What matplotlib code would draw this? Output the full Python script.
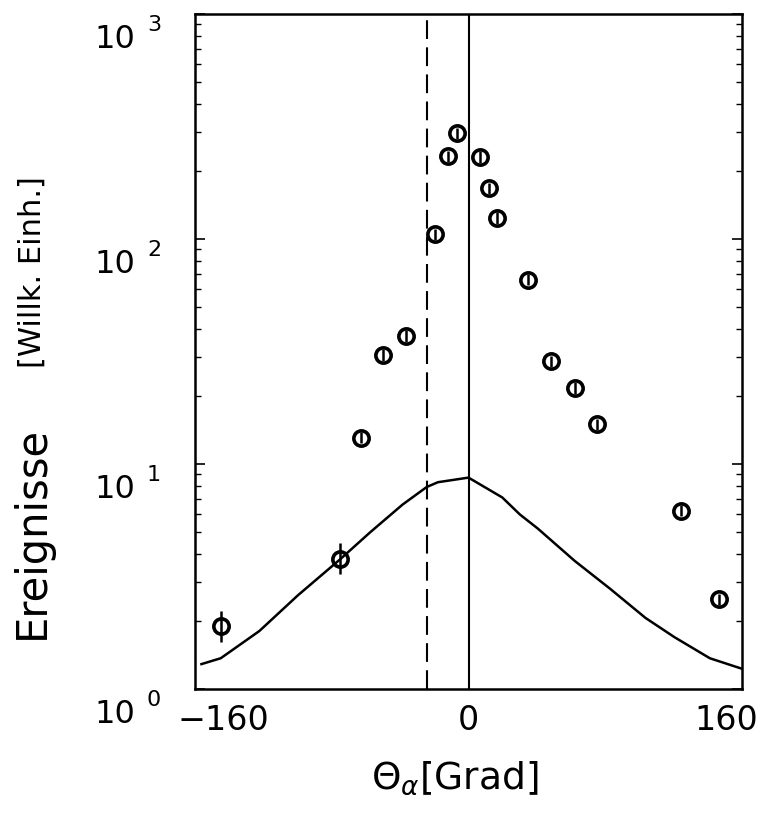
import matplotlib
matplotlib.use("Agg")
import matplotlib.pyplot as plt
import matplotlib.transforms as mtransforms
import numpy as np

plt.rcParams['font.family'] = ['DejaVu Sans']

# data points (theta in degrees, events)
theta_pts = [-154, -80, -67, -53, -39, -21, -13, -7, 7, 12.5, 18, 37, 51, 66, 80, 132, 156]
events_pts = [1.9, 3.8, 13.1, 30.5, 37, 105, 233, 295, 231, 168, 124, 66, 28.6, 21.8, 15.0, 6.2, 2.5]
err_frac = [0.17, 0.17, 0.06, 0.06, 0.06, 0.06, 0.06, 0.06, 0.06, 0.06, 0.06, 0.06, 0.06, 0.06, 0.06, 0.06, 0.06]

# calculated curve
theta_curve = [-166, -154, -130, -106, -80, -61, -41, -26, -19, 0, 21, 32, 43, 66, 88, 110, 128, 150, 170]
events_curve = [1.29, 1.37, 1.81, 2.61, 3.76, 4.98, 6.6, 7.9, 8.3, 8.7, 7.1, 5.96, 5.17, 3.71, 2.79, 2.07, 1.70, 1.37, 1.23]

dashed_x = -26
solid_x = 0

xticks = [-160, 0, 160]
xticklabels = ["\u2212160", "0", "160"]
ydecades = [0, 1, 2, 3]

fig = plt.figure(figsize=(7.61, 8.2), dpi=100)
ax = fig.add_axes([195/761, 1-690/820, (742-195)/761, (690-15)/820])
ax.set_yscale('log')
ax.set_xlim(-170, 170)
ax.set_ylim(1, 1000)

ax.plot(theta_curve, events_curve, color='black', lw=1.8)
ax.axvline(solid_x, color='black', lw=1.5)
ax.axvline(dashed_x, color='black', lw=1.5, dashes=(9, 4))

ev = np.array(events_pts)
ef = np.array(err_frac)
ax.errorbar(theta_pts, ev, yerr=[ev - ev/(1+ef), ev*ef], fmt='o', mfc='none',
            mec='black', ecolor='black', ms=11, mew=2.6, elinewidth=1.8, capsize=0)

for s in ax.spines.values():
    s.set_linewidth(1.8)

ax.set_xticks(xticks)
ax.set_xticklabels(xticklabels, fontsize=24)
ax.tick_params(axis='x', length=0, pad=10)
lbl = ax.get_xticklabels()[0]
lbl.set_transform(lbl.get_transform() + mtransforms.ScaledTranslation(0.12, 0, fig.dpi_scale_trans))
ax.tick_params(axis='y', which='both', direction='in', left=True, right=True,
               labelleft=False)
ax.tick_params(axis='y', which='major', length=7, width=1.2)
ax.tick_params(axis='y', which='minor', length=4, width=1.0)

trans = mtransforms.blended_transform_factory(fig.transFigure, ax.transData)
down = mtransforms.ScaledTranslation(0, -0.09, fig.dpi_scale_trans)
down2 = mtransforms.ScaledTranslation(0, -0.10, fig.dpi_scale_trans)
for d in ydecades:
    ax.text(135/761, 10**d, "10", transform=trans + down, fontsize=23,
            ha='right', va='top', clip_on=False)
    ax.text(147/761, 10**d, str(d), transform=trans + down2, fontsize=16,
            ha='left', va='center', clip_on=False)

fig.text(32/761, 1-532/820, "Ereignisse", rotation=90, fontsize=30,
         ha='center', va='center')
fig.text(32/761, 1-272/820, "[Willk. Einh.]", rotation=90, fontsize=22,
         ha='center', va='center')
fig.text(455/761, 1-778/820, r"$\Theta_{\alpha}$[Grad]", fontsize=27,
         ha='center', va='center')

fig.savefig("out.png", dpi=100)
